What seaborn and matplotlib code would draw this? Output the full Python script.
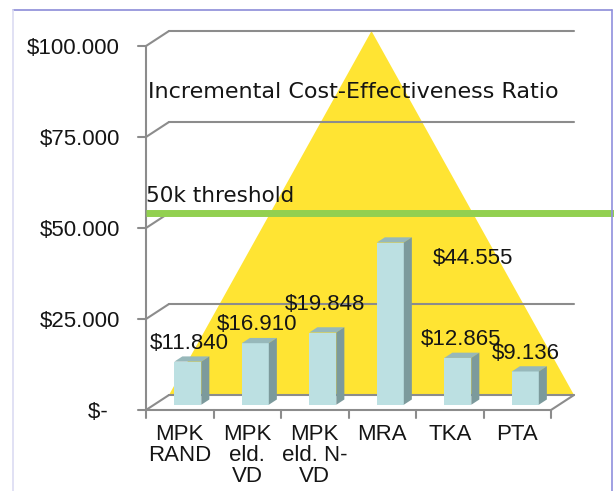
import matplotlib
matplotlib.use("Agg")
import matplotlib.pyplot as plt
import seaborn as sns
import pandas as pd
from matplotlib.transforms import ScaledTranslation, IdentityTransform
from matplotlib.patches import Polygon
from matplotlib.lines import Line2D

# ---------------- data ----------------
categories = ["MPK\nRAND", "MPK\neld.\nVD", "MPK\neld. N-\nVD", "MRA", "TKA", "PTA"]
icer_values = [11840, 16910, 19848, 44555, 12865, 9136]
y_ticks = [0, 25000, 50000, 75000, 100000]
y_tick_labels = ["$-  ", "$25.000", "$50.000", "$75.000", "$100.000"]
threshold = 50000
threshold_label = "50k threshold"
chart_title = "Incremental Cost-Effectiveness Ratio"

# label offsets (pixels) relative to the top of each bar (layout only)
label_offsets = [(10, 18), (10, 18), (10, 28), (91, -16), (11, 18), (9, 18)]


def money(v):
    return "$" + f"{v:,}".replace(",", ".")


# ---------------- style ----------------
sns.set_theme(style="white")
plt.rcParams['font.family'] = ['Liberation Sans', 'DejaVu Sans']
FS = 16
WIDE = ['DejaVu Sans']
TXT = "#151515"
FRONT = "#BCE0E2"
TOP = "#97B8BA"
SIDE = "#7C9A9C"
YELLOW = "#FFE433"
GREEN = "#92D050"
GRID = "#8C8C8C"

DPI = 100
W, H = 614, 491
DX, DY = 23, 15          # depth of the 3-D box in pixels
BF, BB = 0.35, 0.70      # bar front / back depth fraction

fig = plt.figure(figsize=(W / DPI, H / DPI), dpi=DPI)
fig.patch.set_facecolor("white")
ax = fig.add_axes([146 / W, 81 / H, 405 / W, 364 / H])
ax.patch.set_alpha(0)

df = pd.DataFrame({"cat": categories, "val": icer_values})
sns.barplot(data=df, x="cat", y="val", color=FRONT, saturation=1, width=0.4,
            ax=ax, zorder=5, linewidth=0)
bars = list(ax.patches)

ax.set_xlim(-0.5, len(categories) - 0.5)
ax.set_ylim(y_ticks[0], y_ticks[-1])
for s in ax.spines.values():
    s.set_visible(False)
ax.grid(False)
ax.set_xlabel("")
ax.set_ylabel("")

x0, x1 = ax.get_xlim()
y0, y1 = ax.get_ylim()


def px(x, y, depth=0.0):
    X, Y = ax.transData.transform((x, y))
    return X + depth * DX, Y + depth * DY


def pline(p, q, color=GRID, lw=1.5, z=1, **kw):
    ax.add_line(Line2D([p[0], q[0]], [p[1], q[1]], transform=IdentityTransform(),
                       color=color, lw=lw, zorder=z, clip_on=False, **kw))


# back wall triangle
tri = Polygon([px(x0, y0, 1), px((x0 + x1) / 2, y1, 1), px(x1, y0, 1)],
              closed=True, transform=IdentityTransform(), facecolor=YELLOW,
              edgecolor="none", zorder=0.5, clip_on=False)
ax.add_patch(tri)

# gridlines on the back wall + slanted connectors + ticks
for t in y_ticks:
    pline(px(x0, t, 0), px(x0, t, 1))
    pline(px(x0, t, 1), px(x1, t, 1))
    a = px(x0, t, 0)
    pline((a[0] - 8, a[1]), a)

# front vertical axis
pline(px(x0, y0, 0), px(x0, y1, 0))
# floor
pline(px(x0, y0, 0), px(x1, y0, 0))
pline(px(x1, y0, 0), px(x1, y0, 1))
for i in range(len(categories) + 1):
    a = px(x0 + i, y0, 0)
    pline(a, (a[0], a[1] - 8))

# threshold line
ty = px(x0, threshold, 1)[1]
ax.add_line(Line2D([px(x0, y0)[0], W], [ty, ty], transform=IdentityTransform(),
                   color=GREEN, lw=5, zorder=2, clip_on=False,
                   solid_capstyle="butt"))

# 3-D bars
off = ScaledTranslation(DX * BF / DPI, DY * BF / DPI, fig.dpi_scale_trans)
for p in bars:
    bx, bw, bh = p.get_x(), p.get_width(), p.get_height()
    p.set_transform(ax.transData + off)
    p.set_clip_on(False)
    top = Polygon([px(bx, bh, BF), px(bx + bw, bh, BF), px(bx + bw, bh, BB), px(bx, bh, BB)],
                  closed=True, transform=IdentityTransform(), facecolor=TOP,
                  edgecolor="none", zorder=5, clip_on=False)
    side = Polygon([px(bx + bw, 0, BF), px(bx + bw, bh, BF), px(bx + bw, bh, BB), px(bx + bw, 0, BB)],
                   closed=True, transform=IdentityTransform(), facecolor=SIDE,
                   edgecolor="none", zorder=5, clip_on=False)
    ax.add_patch(top)
    ax.add_patch(side)

# value labels
for i, (v, (ox, oy)) in enumerate(zip(icer_values, label_offsets)):
    ax.annotate(money(v), xy=(i, v), xytext=(ox, oy), textcoords="offset pixels",
                ha="center", va="baseline", fontsize=FS, color=TXT, zorder=7,
                annotation_clip=False)

# texts
ax.annotate(chart_title, xy=(x0, y1), xytext=(2, -52), textcoords="offset pixels",
            ha="left", va="baseline", fontsize=16, family=WIDE, color=TXT, zorder=7,
            annotation_clip=False)
ax.annotate(threshold_label, xy=(x0, threshold), xytext=(0, 26), textcoords="offset pixels",
            ha="left", va="baseline", fontsize=15.5, family=WIDE, color=TXT, zorder=7,
            annotation_clip=False)

# axis tick labels
ax.set_yticks(y_ticks, y_tick_labels)
ax.set_xticks(range(len(categories)), categories)
ax.tick_params(axis="y", length=0, pad=26 * 0.72, labelsize=FS, labelcolor=TXT)
ax.tick_params(axis="x", length=0, pad=14 * 0.72, labelsize=FS, labelcolor=TXT)
for lab in ax.get_xticklabels():
    lab.set_linespacing(1.0)

# outer frame
fig.add_artist(Line2D([13 / W, 612 / W], [1 - 10 / H, 1 - 10 / H], transform=fig.transFigure,
                      color="#8C8CD8", lw=1.2))
fig.add_artist(Line2D([13 / W, 13 / W], [0, 1 - 10 / H], transform=fig.transFigure,
                      color="#DCDCF2", lw=1.2))
fig.add_artist(Line2D([611.5 / W, 611.5 / W], [0, 1 - 10 / H], transform=fig.transFigure,
                      color="#9090DD", lw=1.2))

fig.savefig("out.png", dpi=DPI)
